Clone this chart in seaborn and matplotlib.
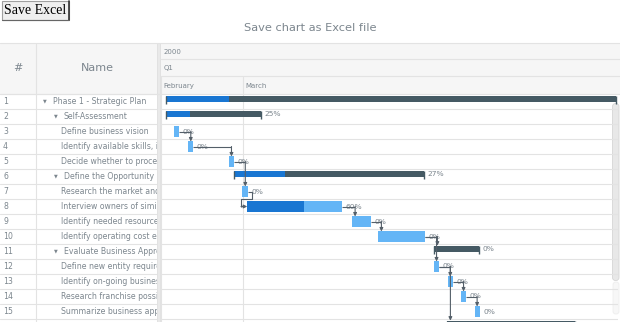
import matplotlib
matplotlib.use("Agg")
import matplotlib.pyplot as plt
from matplotlib.patches import Rectangle, FancyBboxPatch
import seaborn as sns

# ---------------- project data (days counted from 2000-02-01) ----------------
row_ids = list(range(1, 17))
task_names = [
    "Phase 1 - Strategic Plan",
    "Self-Assessment",
    "Define business vision",
    "Identify available skills, information and support",
    "Decide whether to proceed",
    "Define the Opportunity",
    "Research the market and competition",
    "Interview owners of similar businesses",
    "Identify needed resources",
    "Identify operating cost elements",
    "Evaluate Business Approach",
    "Define new entity requirements",
    "Identify on-going business purchase opportunities",
    "Research franchise possibilities",
    "Summarize business approach",
    "Evaluate Potential Risks and Rewards",
]
levels = [0, 1, 2, 2, 2, 1, 2, 2, 2, 2, 1, 2, 2, 2, 2, 1]
is_parent = [True, True, False, False, False, True, False, False,
             False, False, True, False, False, False, False, True]
start_day = [1.66, 1.66, 4.70, 9.65, 24.05, 25.7, 28.75, 30.5,
             67.4, 76.7, 96.5, 96.5, 101.4, 106.1, 110.9, 101.1]
end_day = [160.9, 35.4, 6.47, 11.42, 25.8, 93.1, 30.87, 64.1,
           74.2, 93.4, 112.6, 98.4, 103.2, 107.9, 112.7, 146.4]
progress_pct = [14, 25, 0, 0, 0, 27, 0, 60, 0, 0, 0, 0, 0, 0, 0, 0]
links = [(3, 4), (4, 5), (5, 7), (7, 8), (8, 9), (9, 10), (10, 11),
         (10, 12), (12, 13), (12, 16), (13, 14), (14, 15)]
year_label = "2000"
quarter_label = "Q1"
month_labels = ["February", "March"]
month_start_day = [0, 29]

# ---------------- style ----------------
sns.set_theme(style="white")
plt.rcParams["font.family"] = ["DejaVu Sans"]

TEXT = "#7c868e"
LINE = "#e3e3e3"
HEAD_BG = "#f6f6f6"
PARENT = "#455a64"
PROGRESS = "#1976d2"
TASK = "#64b5f6"
LINK = "#545f69"

W, H = 620, 322
PX_DAY = 82 / 29          # timeline zoom level
TL_LEFT, TL_RIGHT = 161, 618
BODY_TOP = 94
ROW_H = 15

fig = plt.figure(figsize=(W / 100, H / 100), dpi=100)
fig.patch.set_facecolor("white")

# page-level canvas in pixel units
bg = fig.add_axes([0, 0, 1, 1])
bg.set_xlim(0, W)
bg.set_ylim(H, 0)
bg.axis("off")

# button
bg.add_patch(Rectangle((2, 0.5), 67, 19, facecolor="#efefef",
                       edgecolor="#a0a0a0", lw=0.8))
bg.plot([69, 69], [0.5, 19.5], color="#333333", lw=1.2)
bg.plot([2, 69], [19.5, 19.5], color="#666666", lw=0.8)
bg.text(35.5, 10.5, "Save Excel", family="Liberation Serif", fontsize=10,
        color="black", ha="center", va="center")

# title
bg.text(310, 28, "Save chart as Excel file", fontsize=8.2, color=TEXT,
        ha="center", va="center")

# header backgrounds
bg.add_patch(Rectangle((0, 42.5), W, 51, facecolor=HEAD_BG, edgecolor="none"))
for yy in (42.5, 93.5):
    bg.plot([0, W], [yy, yy], color=LINE, lw=0.8)
for yy in (59, 76):
    bg.plot([TL_LEFT, W], [yy, yy], color=LINE, lw=0.8)

# data grid header
bg.text(18, 68, "#", fontsize=8, color=TEXT, ha="center", va="center")
bg.text(97, 68, "Name", fontsize=8, color=TEXT, ha="center", va="center")
bg.plot([36, 36], [42.5, H], color=LINE, lw=0.8)

# data grid body rows (only rows inside the viewport get labels)
n_vis = int((H - BODY_TOP) / ROW_H) + 2
for k in range(n_vis):
    yy = BODY_TOP + ROW_H * k
    bg.plot([0, 157], [yy, yy], color=LINE, lw=0.8)
for rid in row_ids:
    yc = BODY_TOP + ROW_H * (rid - 0.5)
    if yc + 4 > H:
        continue
    bg.text(3, yc, str(rid), fontsize=5.6, color=TEXT, ha="left", va="center")

# name column (clipped at column edge)
names_ax = fig.add_axes([36 / W, 0, (157 - 36) / W, (H - BODY_TOP) / H])
names_ax.set_xlim(36, 157)
names_ax.set_ylim(H, BODY_TOP)
names_ax.axis("off")
names_ax.patch.set_alpha(0)
for rid, name, lvl, par in zip(row_ids, task_names, levels, is_parent):
    yc = BODY_TOP + ROW_H * (rid - 0.5)
    if yc + 4 > H:
        continue
    if par:
        tri_x = 43 + 11 * lvl
        names_ax.text(tri_x, yc - 0.5, "\u25bc", fontsize=3.5, color=TEXT,
                      ha="left", va="center", clip_on=True)
        tx = tri_x + 10
    else:
        tx = 61
    names_ax.text(tx, yc, name, fontsize=5.6, color=TEXT, ha="left",
                  va="center", clip_on=True)

# splitter between grid and timeline
bg.add_patch(Rectangle((156.5, 42.5), 3, H - 42.5, facecolor="#e9e9e9",
                       edgecolor="#dcdcdc", lw=0.5))

# timeline header labels
bg.text(163.5, 51.5, year_label, fontsize=5, color=TEXT, ha="left", va="center")
bg.text(163.5, 68, quarter_label, fontsize=5, color=TEXT, ha="left", va="center")

# ---------------- timeline ----------------
ax = fig.add_axes([TL_LEFT / W, 0, (TL_RIGHT - TL_LEFT) / W, (H - BODY_TOP) / H])
x_max = (TL_RIGHT - TL_LEFT) / PX_DAY
ax.set_xlim(0, x_max)
ax.set_ylim(0.5 + (H - BODY_TOP) / ROW_H, 0.5)
ax.axis("off")
ax.patch.set_alpha(0)

for k in range(1, n_vis + 1):
    ax.axhline(k + 0.5, color=LINE, lw=0.8, zorder=0)
for d in month_start_day:
    ax.axvline(d, color=LINE, lw=0.8, zorder=0)

# month headers share the timeline scale
for lab, d in zip(month_labels, month_start_day):
    xp = TL_LEFT + d * PX_DAY
    bg.plot([xp, xp], [76, 93.5], color=LINE, lw=0.8)
    bg.text(xp + 2.5, 85.5, lab, fontsize=5, color=TEXT, ha="left", va="center")

PARENT_H = 0.4
PARENT_OFF = -0.19
TASK_H = 0.667


def bar_y(i):
    return row_ids[i] + (PARENT_OFF if is_parent[i] else 0)


def bar_top(i):
    h = PARENT_H if is_parent[i] else TASK_H
    return bar_y(i) - h / 2


bar_kw = dict(edgecolor="none", linewidth=0)
for i, rid in enumerate(row_ids):
    s, e, p = start_day[i], end_day[i], progress_pct[i]
    dur = e - s
    y = bar_y(i)
    if is_parent[i]:
        ax.barh(y, dur, left=s, height=PARENT_H, color=PARENT, zorder=2, **bar_kw)
        if p:
            ax.barh(y, dur * p / 100, left=s, height=PARENT_H,
                    color=PROGRESS, zorder=3, **bar_kw)
        ax.vlines([s + 0.15, e - 0.15], y - PARENT_H / 2, y + PARENT_H / 2 + 0.13,
                  color=PARENT, lw=1.0, zorder=3)
    else:
        ax.barh(y, dur, left=s, height=TASK_H, color=TASK, zorder=2, **bar_kw)
        if p:
            ax.barh(y, dur * p / 100, left=s, height=TASK_H,
                    color=PROGRESS, zorder=3, **bar_kw)
    # percentage label, only when it starts inside the visible range
    if e + 1.5 < x_max:
        ax.annotate(f"{p}%", (e, y), xytext=(2.5, 0), textcoords="offset points",
                    fontsize=5.4, color=TEXT, ha="left", va="center",
                    clip_on=True, zorder=4)

# dependency connectors
idx = {rid: i for i, rid in enumerate(row_ids)}
for a, b in links:
    ia, ib = idx[a], idx[b]
    xa, ya = end_day[ia], bar_y(ia)
    sb, eb = start_day[ib], end_day[ib]
    if sb > xa:
        xv = min(sb + 1.25, (sb + eb) / 2)
        pts = [(xa, ya), (xv, ya), (xv, bar_top(ib))]
    else:
        x1 = xa + 1.2
        ym = row_ids[ia] + 0.5
        x2 = sb - 2.2
        yb = bar_y(ib)
        pts = [(xa, ya), (x1, ya), (x1, ym), (x2, ym), (x2, yb), (sb, yb)]
    xs, ys = zip(*pts[:-1])
    ax.plot(xs, ys, color=LINK, lw=0.8, zorder=5, solid_capstyle="butt")
    ax.annotate("", xy=pts[-1], xytext=pts[-2],
                arrowprops=dict(arrowstyle="-|>", color=LINK, lw=0.8,
                                mutation_scale=5, shrinkA=0, shrinkB=0),
                zorder=5, annotation_clip=False)

# vertical scrollbar
bg.add_patch(FancyBboxPatch((613, 282), 6, 32, boxstyle="round,pad=0,rounding_size=2.5",
                            facecolor="#f7f7f7", edgecolor="#ececec", lw=0.5, zorder=10))
bg.add_patch(FancyBboxPatch((612.5, 103.5), 6.5, 177, boxstyle="round,pad=0,rounding_size=3",
                            facecolor="#e8e8e8", edgecolor="#d6d6d6", lw=0.6, zorder=10))

fig.savefig("out.png", dpi=100, facecolor="white")
